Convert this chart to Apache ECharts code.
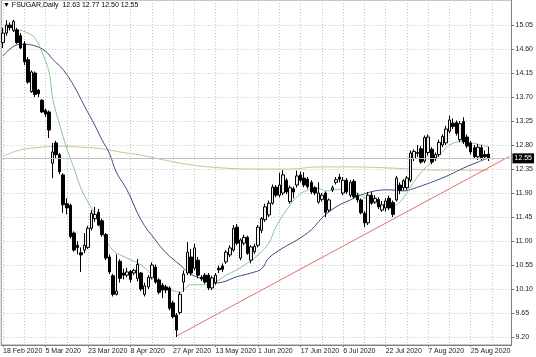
<!DOCTYPE html>
<html><head><meta charset="utf-8">
<script src="https://cdn.jsdelivr.net/npm/echarts@6/dist/echarts.min.js"></script>
<style>html,body{margin:0;padding:0;background:#fff}#c{width:536px;height:357px}</style>
</head><body><div id="c"></div>
<script>
const symbolName = 'FSUGAR,Daily';
const dates = [
'18 Feb 2020','19 Feb 2020','20 Feb 2020','21 Feb 2020','24 Feb 2020','25 Feb 2020','26 Feb 2020','27 Feb 2020','28 Feb 2020',
'2 Mar 2020','3 Mar 2020','4 Mar 2020','5 Mar 2020','6 Mar 2020','9 Mar 2020','10 Mar 2020','11 Mar 2020','12 Mar 2020','13 Mar 2020','16 Mar 2020','17 Mar 2020','18 Mar 2020','19 Mar 2020','20 Mar 2020','23 Mar 2020','24 Mar 2020','25 Mar 2020','26 Mar 2020','27 Mar 2020','30 Mar 2020','31 Mar 2020',
'1 Apr 2020','2 Apr 2020','3 Apr 2020','6 Apr 2020','7 Apr 2020','8 Apr 2020','9 Apr 2020','13 Apr 2020','14 Apr 2020','15 Apr 2020','16 Apr 2020','17 Apr 2020','20 Apr 2020','21 Apr 2020','22 Apr 2020','23 Apr 2020','24 Apr 2020','27 Apr 2020','28 Apr 2020','29 Apr 2020','30 Apr 2020',
'1 May 2020','4 May 2020','5 May 2020','6 May 2020','7 May 2020','8 May 2020','11 May 2020','12 May 2020','13 May 2020','14 May 2020','15 May 2020','18 May 2020','19 May 2020','20 May 2020','21 May 2020','22 May 2020','26 May 2020','27 May 2020','28 May 2020','29 May 2020',
'1 Jun 2020','2 Jun 2020','3 Jun 2020','4 Jun 2020','5 Jun 2020','8 Jun 2020','9 Jun 2020','10 Jun 2020','11 Jun 2020','12 Jun 2020','15 Jun 2020','16 Jun 2020','17 Jun 2020','18 Jun 2020','19 Jun 2020','22 Jun 2020','23 Jun 2020','24 Jun 2020','25 Jun 2020','26 Jun 2020','29 Jun 2020','30 Jun 2020',
'1 Jul 2020','2 Jul 2020','6 Jul 2020','7 Jul 2020','8 Jul 2020','9 Jul 2020','10 Jul 2020','13 Jul 2020','14 Jul 2020','15 Jul 2020','16 Jul 2020','17 Jul 2020','20 Jul 2020','21 Jul 2020','22 Jul 2020','23 Jul 2020','24 Jul 2020','27 Jul 2020','28 Jul 2020','29 Jul 2020','30 Jul 2020','31 Jul 2020',
'3 Aug 2020','4 Aug 2020','5 Aug 2020','6 Aug 2020','7 Aug 2020','10 Aug 2020','11 Aug 2020','12 Aug 2020','13 Aug 2020','14 Aug 2020','17 Aug 2020','18 Aug 2020','19 Aug 2020','20 Aug 2020','21 Aug 2020','24 Aug 2020','25 Aug 2020','26 Aug 2020','27 Aug 2020','28 Aug 2020','31 Aug 2020',
'1 Sep 2020','2 Sep 2020','3 Sep 2020','4 Sep 2020','8 Sep 2020','9 Sep 2020','10 Sep 2020'
];
const open = [
14.72,14.90,15.05,14.95,14.96,14.85,14.70,14.40,13.80,14.15,13.83,13.64,13.45,13.42,12.46,12.84,12.62,12.24,11.70,11.67,
11.15,10.92,10.78,10.83,10.88,11.24,11.42,11.54,11.38,11.12,10.70,10.35,10.00,10.62,10.40,10.36,10.43,10.40,10.30,10.40,
10.00,10.14,10.31,10.51,10.27,10.17,10.14,10.12,9.84,9.61,9.66,10.23,10.40,10.70,10.49,10.64,10.32,10.36,10.36,10.12,
10.22,10.49,10.53,10.61,10.74,10.83,11.26,10.68,10.96,11.07,10.64,10.80,10.92,11.20,11.40,11.49,11.71,12.01,11.86,11.90,
12.14,11.74,11.98,12.05,12.24,12.18,12.16,12.10,12.00,11.73,11.78,11.90,11.58,11.96,12.10,12.20,11.90,12.14,11.86,12.12,
11.86,11.77,11.52,11.34,11.86,11.73,11.78,11.58,11.62,11.80,11.72,11.77,12.05,12.00,12.00,12.14,12.55,12.64,12.73,12.50,
12.66,12.72,12.56,12.62,12.80,12.84,13.06,13.21,13.22,12.90,13.24,12.95,12.84,12.75,12.58,12.75,12.62,12.63
];
const high = [
15.00,15.14,15.10,15.15,15.00,14.90,14.75,14.45,14.20,14.18,13.85,13.66,13.48,13.45,12.84,12.88,12.65,12.27,11.80,11.70,
11.18,11.00,10.88,11.15,11.28,11.58,11.64,11.60,11.42,11.15,10.75,10.38,10.75,10.66,10.48,10.50,10.46,10.48,10.66,10.42,
10.22,10.36,10.60,10.56,10.30,10.21,10.18,10.15,9.88,9.65,10.05,10.45,10.98,10.85,10.95,10.70,10.36,10.40,10.40,10.35,
10.40,10.54,10.58,10.83,10.92,11.30,11.32,11.05,11.12,11.10,10.92,10.95,11.30,11.45,11.70,11.76,12.06,12.05,12.28,12.33,
12.18,12.04,12.02,12.32,12.30,12.29,12.20,12.14,12.03,12.10,11.90,11.93,11.80,12.04,12.20,12.26,12.20,12.18,12.14,12.16,
11.90,11.80,11.56,11.92,11.92,11.86,11.82,11.75,11.80,11.85,11.76,12.22,12.10,12.16,12.22,12.70,12.72,12.80,12.78,12.98,
13.00,12.76,12.66,12.90,13.00,13.16,13.35,13.30,13.26,13.25,13.32,13.00,12.88,12.80,12.82,12.80,12.70,12.77
];
const low = [
14.62,14.85,14.95,14.92,14.70,14.60,14.30,13.95,13.78,13.70,13.70,13.40,13.33,12.93,12.18,12.55,12.25,11.53,11.50,11.05,
10.80,10.75,10.42,10.77,10.85,11.20,11.36,11.28,11.08,10.64,10.38,9.96,9.98,10.22,10.28,10.32,10.22,10.36,10.24,10.06,
9.96,10.10,10.28,10.20,10.00,9.93,10.02,9.70,9.55,9.20,9.62,10.05,10.36,10.35,10.45,10.30,10.25,10.20,10.08,10.08,
10.18,10.40,10.42,10.57,10.70,10.80,10.92,10.64,10.92,10.74,10.58,10.76,10.88,11.15,11.36,11.45,11.68,11.82,11.82,11.86,
11.88,11.70,11.80,12.00,12.10,12.01,11.98,11.88,11.86,11.70,11.74,11.45,11.54,11.92,12.06,12.10,11.86,11.88,11.82,11.80,
11.72,11.50,11.26,11.30,11.68,11.70,11.60,11.55,11.55,11.58,11.45,11.74,11.88,11.95,11.96,12.10,12.50,12.58,12.45,12.46,
12.60,12.44,12.50,12.58,12.76,12.80,13.02,13.10,12.98,12.86,12.82,12.74,12.62,12.55,12.52,12.52,12.54,12.50
];
const close = [
14.90,15.05,15.00,15.12,14.72,14.62,14.36,13.98,14.17,13.75,13.76,13.42,13.38,13.08,12.67,12.62,12.30,11.68,11.62,11.08,
10.83,10.88,10.74,10.92,11.24,11.52,11.50,11.30,11.12,10.68,10.42,10.00,10.06,10.30,10.36,10.42,10.28,10.45,10.56,10.10,
10.16,10.32,10.55,10.23,10.04,10.08,10.08,9.74,9.58,9.33,10.00,10.38,10.79,10.40,10.87,10.36,10.29,10.23,10.12,10.31,
10.36,10.46,10.47,10.79,10.87,11.24,10.96,11.02,11.07,10.77,10.89,10.90,11.26,11.42,11.64,11.71,12.01,11.86,12.05,12.24,
11.92,12.00,11.92,12.22,12.14,12.05,12.02,11.92,11.90,11.90,11.86,11.54,11.77,12.00,12.15,12.16,12.14,11.92,12.10,11.83,
11.77,11.53,11.34,11.86,11.71,11.80,11.64,11.68,11.75,11.62,11.50,12.18,11.95,12.13,12.18,12.65,12.68,12.66,12.48,12.94,
12.95,12.48,12.62,12.85,12.96,13.10,13.27,13.15,13.02,13.20,12.86,12.78,12.67,12.58,12.76,12.56,12.58,12.55
];
const priceTicks = [9.20,9.65,10.10,10.55,11.00,11.45,11.90,12.35,12.80,13.25,13.70,14.15,14.60,15.05];
// moving averages: [bar index, value]
const maFast = [[3,14.92],[4,14.96],[7,14.90],[9,14.81],[11,14.54],[13,14.17],[14,13.68],[16,13.18],[18,12.74],[20,12.37],[22,11.99],[24,11.73],[26,11.49],[28,11.15],[31,10.83],[35,10.68],[39,10.55],[43,10.31],[46,10.14],[50,10.04],[53,10.18],[56,10.18],[58,10.18],[60,10.23],[63,10.36],[66,10.46],[69,10.59],[72,10.74],[75,10.96],[77,11.26],[80,11.58],[83,11.83],[86,11.96],[89,11.99],[91,11.94],[94,11.96],[97,11.98],[100,11.90],[103,11.77],[106,11.68],[108,11.64],[111,11.68],[113,11.81],[115,12.01],[118,12.29],[121,12.48],[124,12.67],[126,12.80],[129,12.86],[132,12.84],[135,12.80],[137,12.76]];
const maSlow = [[0,14.47],[4,14.68],[6,14.69],[9,14.66],[12,14.56],[14,14.41],[17,14.21],[20,13.91],[23,13.53],[26,13.16],[28,12.89],[30,12.65],[32,12.29],[35,11.96],[39,11.39],[43,11.02],[46,10.78],[50,10.55],[53,10.38],[57,10.27],[59,10.21],[62,10.23],[66,10.33],[70,10.40],[73,10.48],[75,10.68],[79,10.87],[83,11.02],[87,11.21],[90,11.43],[94,11.64],[98,11.77],[101,11.86],[105,11.94],[109,11.96],[113,11.94],[117,12.01],[122,12.13],[126,12.24],[130,12.37],[134,12.48],[137,12.56]];
const ma200 = [[0,12.59],[5,12.71],[11,12.76],[16,12.78],[22,12.76],[28,12.73],[33,12.67],[39,12.61],[44,12.54],[53,12.43],[62,12.37],[72,12.35],[81,12.35],[89,12.39],[98,12.39],[109,12.37],[123,12.33],[137,12.33]];
const trendLine = [[49,9.22],[143,12.59]];

const n = open.length;
const candles = open.map((o,i)=>[o, close[i], low[i], high[i]]);
const last = n-1;
const header = '\u25BC ' + symbolName + '  ' + [open[last],high[last],low[last],close[last]].map(v=>v.toFixed(2)).join(' ');
const bid = close[last];

const font = 'Liberation Sans';
const gridStyle = {color:'#c4c4c4', width:1, type:[1,2]};
const chart = echarts.init(document.getElementById('c'), null, {renderer:'canvas'});
chart.setOption({
  animation:false,
  backgroundColor:'#ffffff',
  title:{text:header, left:3, top:2, padding:0, textStyle:{fontFamily:font, fontSize:7, fontWeight:'normal', color:'#000'}},
  grid:{left:0, right:23, top:0, bottom:12, show:true, borderColor:'#909090', borderWidth:1, backgroundColor:'transparent'},
  xAxis:{
    type:'category', data:dates, boundaryGap:true,
    axisLine:{show:true, lineStyle:{color:'#808080'}},
    axisTick:{show:true, interval:11, alignWithLabel:true, length:2, lineStyle:{color:'#808080'}},
    axisLabel:{interval:11, align:'left', margin:3, fontFamily:font, fontSize:7, color:'#222'},
    splitLine:{show:true, interval:5, alignWithLabel:true, lineStyle:gridStyle}
  },
  yAxis:{
    type:'value', position:'right', min:9.05, max:15.52, scale:true,
    axisLine:{show:true, lineStyle:{color:'#808080'}},
    axisTick:{show:true, length:3, customValues:priceTicks, lineStyle:{color:'#808080'}},
    axisLabel:{customValues:priceTicks, margin:4, fontFamily:font, fontSize:7, color:'#222', formatter:v=>v.toFixed(2)},
    splitLine:{show:true, lineStyle:gridStyle}
  },
  series:[
    {type:'line', data:ma200, showSymbol:false, smooth:0.4, lineStyle:{color:'#d6bc98', width:1}, z:2},
    {type:'line', data:trendLine, showSymbol:false, lineStyle:{color:'#e07070', width:1}, z:2},
    {type:'line', data:maSlow, showSymbol:false, smooth:0.4, lineStyle:{color:'#3f4c82', width:1}, z:2},
    {type:'line', data:maFast, showSymbol:false, smooth:0.4, lineStyle:{color:'#8cc4a2', width:1}, z:2},
    {type:'candlestick', data:candles, barWidth:3, z:3,
      itemStyle:{color:'#f0f0f0', color0:'#000000', borderColor:'#000000', borderColor0:'#000000', borderWidth:1},
      markLine:{silent:true, symbol:['none','none'], animation:false,
        lineStyle:{color:'#c0c0c0', width:1, type:'solid'},
        label:{show:true, position:'end', distance:1, formatter:bid.toFixed(2), backgroundColor:'#000', color:'#fff', fontFamily:font, fontSize:7, padding:[2,2,1,2]},
        data:[{yAxis:bid}]}
    }
  ]
});
</script></body></html>
